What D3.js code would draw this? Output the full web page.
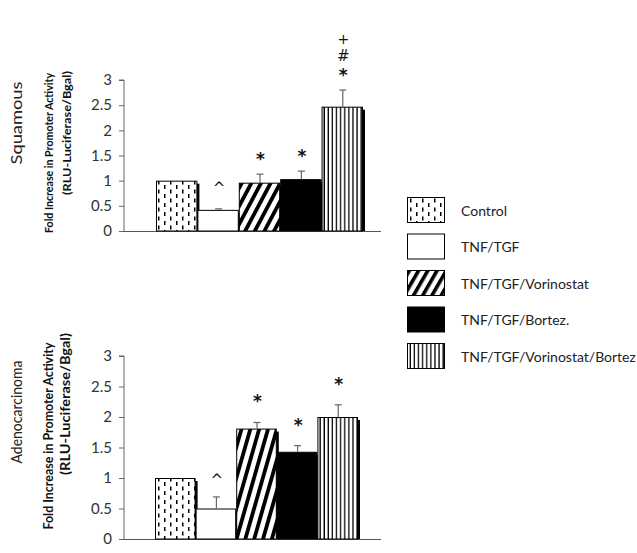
<!DOCTYPE html>
<html><head><meta charset="utf-8">
<script src="https://cdn.jsdelivr.net/npm/d3@7/dist/d3.min.js"></script>
<style>body{margin:0;background:#fff}svg{display:block}</style>
</head><body>
<svg id="c" width="637" height="553"></svg>
<script>
const categories = ["Control","TNF/TGF","TNF/TGF/Vorinostat","TNF/TGF/Bortez.","TNF/TGF/Vorinostat/Bortez"];
const squamousMeans = [1.0, 0.42, 0.96, 1.03, 2.47];
const squamousErrors = [0, 0.02, 0.17, 0.16, 0.33];
const squamousMarks = [[], ["^"], ["*"], ["*"], ["*","#","+"]];
const adenoMeans = [1.0, 0.50, 1.81, 1.43, 2.00];
const adenoErrors = [0, 0.19, 0.10, 0.10, 0.20];
const adenoMarks = [[], ["^"], ["*"], ["*"], ["*"]];
const yTicks = [0, 0.5, 1, 1.5, 2, 2.5, 3];
const yLabel1 = "Fold Increase in Promoter Activity";
const yLabel2 = "(RLU-Luciferase/Bgal)";

const svg = d3.select("#c");
const defs = svg.append("defs");
const FONT = "Lato, 'Open Sans', sans-serif";

function dotsPattern(id){
  const p = defs.append("pattern").attr("id", id).attr("patternUnits","userSpaceOnUse")
    .attr("width", 12).attr("height", 9);
  p.append("rect").attr("width",12).attr("height",9).attr("fill","#fff");
  p.append("rect").attr("x",2).attr("y",0.5).attr("width",1.5).attr("height",4).attr("fill","#000");
  p.append("rect").attr("x",8).attr("y",5).attr("width",1.5).attr("height",4).attr("fill","#000");
}
function stripePattern(id, angle, period){
  const p = defs.append("pattern").attr("id", id).attr("patternUnits","userSpaceOnUse")
    .attr("width", period).attr("height", period).attr("patternTransform", `rotate(${angle})`);
  p.append("rect").attr("width",period).attr("height",period).attr("fill","#fff");
  p.append("rect").attr("x",0).attr("y",0).attr("width",period*0.45).attr("height",period).attr("fill","#000");
}
function vlinePattern(id, period){
  const p = defs.append("pattern").attr("id", id).attr("patternUnits","userSpaceOnUse")
    .attr("width", period).attr("height", 10).attr("x", 1);
  p.append("rect").attr("width",period).attr("height",10).attr("fill","#fff");
  p.append("rect").attr("x",period-1.3).attr("y",0).attr("width",1.3).attr("height",10).attr("fill","#000");
}
dotsPattern("dots");
stripePattern("stripeTop", 28, 8.5);
stripePattern("stripeBot", 16, 8.5);
stripePattern("stripeLeg", 30, 8);
vlinePattern("vlines", 4.1);

const fillsTop = ["url(#dots)", "#fff", "url(#stripeTop)", "#000", "url(#vlines)"];
const fillsBot = ["url(#dots)", "#fff", "url(#stripeBot)", "#000", "url(#vlines)"];
const fillsLeg = ["url(#dots)", "#fff", "url(#stripeLeg)", "#000", "url(#vlines)"];

function panel(cfg){
  const y = d3.scaleLinear().domain([0,3]).range([cfg.y0, cfg.y3]);
  const x = d3.scaleBand().domain(categories).range(cfg.xr).padding(0);
  const g = svg.append("g");

  const ax = g.append("g").attr("transform", `translate(${cfg.axisX},0)`)
    .call(d3.axisLeft(y).tickValues(yTicks).tickSize(5).tickPadding(7).tickFormat(d3.format("")));
  ax.select(".domain").attr("stroke","#666").attr("d", `M-5,${y(3)}H0V${y(0)}`);
  ax.selectAll(".tick line").attr("stroke","#666");
  ax.selectAll(".tick text").attr("font-family", FONT).attr("font-size", 15).attr("fill","#333");

  g.append("line").attr("x1", cfg.axisX).attr("x2", cfg.axisEnd)
    .attr("y1", y(0)+0.5).attr("y2", y(0)+0.5).attr("stroke","#555").attr("stroke-width",1);

  categories.forEach((c,i)=>{
    const v = cfg.means[i];
    const bx = x(c), bw = x.bandwidth();
    g.append("rect").attr("x", bx+2).attr("y", y(v)+3).attr("width", bw).attr("height", y(0)-y(v)-3).attr("fill","#000");
    g.append("rect").attr("x", bx+0.5).attr("y", y(v)+0.5).attr("width", bw-1).attr("height", y(0)-y(v)-0.5)
      .attr("fill", cfg.fills[i]).attr("stroke","#000").attr("stroke-width",1);
  });
  categories.forEach((c,i)=>{
    const e = cfg.errors[i];
    if (!e) return;
    const cx = x(c) + x.bandwidth()/2 + 0.5;
    const top = y(cfg.means[i]+e);
    g.append("line").attr("x1",cx).attr("x2",cx).attr("y1",y(cfg.means[i])).attr("y2",top).attr("stroke","#666").attr("stroke-width",1.2);
    g.append("line").attr("x1",cx-3.5).attr("x2",cx+3.5).attr("y1",top).attr("y2",top).attr("stroke","#666").attr("stroke-width",1.2);
  });
  categories.forEach((c,i)=>{
    const cx = x(c) + x.bandwidth()/2 + 1;
    const top = y(cfg.means[i]+cfg.errors[i]);
    let yy = top;
    cfg.marks[i].forEach((m,k)=>{
      if (k===0) yy = top - (m==="^" ? cfg.caretOff : cfg.starOff);
      else yy -= (m==="+" ? 17 : 18);
      const size = m==="*" ? 17 : (m==="+" ? 14 : 15);
      const dy = m==="*" ? 8 : (m==="^" ? 10 : 6);
      g.append("text").attr("x", cx).attr("y", yy + dy)
        .attr("text-anchor","middle").attr("font-family","'DejaVu Sans', sans-serif")
        .attr("font-weight", m==="*" ? "bold" : "normal")
        .attr("font-size", size).attr("fill","#111").text(m);
    });
  });

  g.append("text").attr("transform", `translate(${cfg.lab1X},${cfg.lab1Y}) rotate(-90)`)
    .attr("text-anchor","middle").attr("dominant-baseline","central")
    .attr("font-family", FONT).attr("font-weight","bold").attr("font-size", cfg.labSize)
    .attr("textLength", cfg.lab1Len).attr("lengthAdjust","spacingAndGlyphs").attr("fill","#111").text(yLabel1);
  g.append("text").attr("transform", `translate(${cfg.lab2X},${cfg.lab2Y}) rotate(-90)`)
    .attr("text-anchor","middle").attr("dominant-baseline","central")
    .attr("font-family", FONT).attr("font-weight","bold").attr("font-size", cfg.labSize)
    .attr("textLength", cfg.lab2Len).attr("lengthAdjust","spacingAndGlyphs").attr("fill","#111").text(yLabel2);
  g.append("text").attr("transform", `translate(15,${cfg.titleY}) rotate(-90)`)
    .attr("text-anchor","middle").attr("dominant-baseline","central")
    .attr("font-family", FONT).attr("font-size", 16)
    .attr("textLength", cfg.titleLen).attr("lengthAdjust","spacingAndGlyphs").attr("fill","#222").text(cfg.title);
}

panel({ y0:231, y3:80, xr:[156,363], axisX:124, axisEnd:381,
  means: squamousMeans, errors: squamousErrors, marks: squamousMarks, fills: fillsTop,
  starOff: 17, caretOff: 26, labSize: 12,
  lab1X:48, lab1Y:153, lab1Len:160, lab2X:66, lab2Y:133, lab2Len:124,
  title:"Squamous", titleY:123, titleLen:83 });

panel({ y0:539, y3:356, xr:[155,358], axisX:124, axisEnd:381,
  means: adenoMeans, errors: adenoErrors, marks: adenoMarks, fills: fillsBot,
  starOff: 23, caretOff: 22, labSize: 12.5,
  lab1X:48, lab1Y:436, lab1Len:187, lab2X:65, lab2Y:404, lab2Len:142,
  title:"Adenocarcinoma", titleY:412, titleLen:103 });

const legY = d3.scalePoint().domain(categories).range([197, 343]);
const leg = svg.append("g");
categories.forEach((c,i)=>{
  const yy = legY(c);
  leg.append("rect").attr("x",407.5).attr("y",yy+0.5).attr("width",37).attr("height",25)
    .attr("fill", fillsLeg[i]).attr("stroke","#000").attr("stroke-width",1);
  leg.append("text").attr("x",461).attr("y",yy+13).attr("dominant-baseline","central")
    .attr("font-family", FONT).attr("font-size",14).attr("fill","#222").text(c);
});
</script>
</body></html>
